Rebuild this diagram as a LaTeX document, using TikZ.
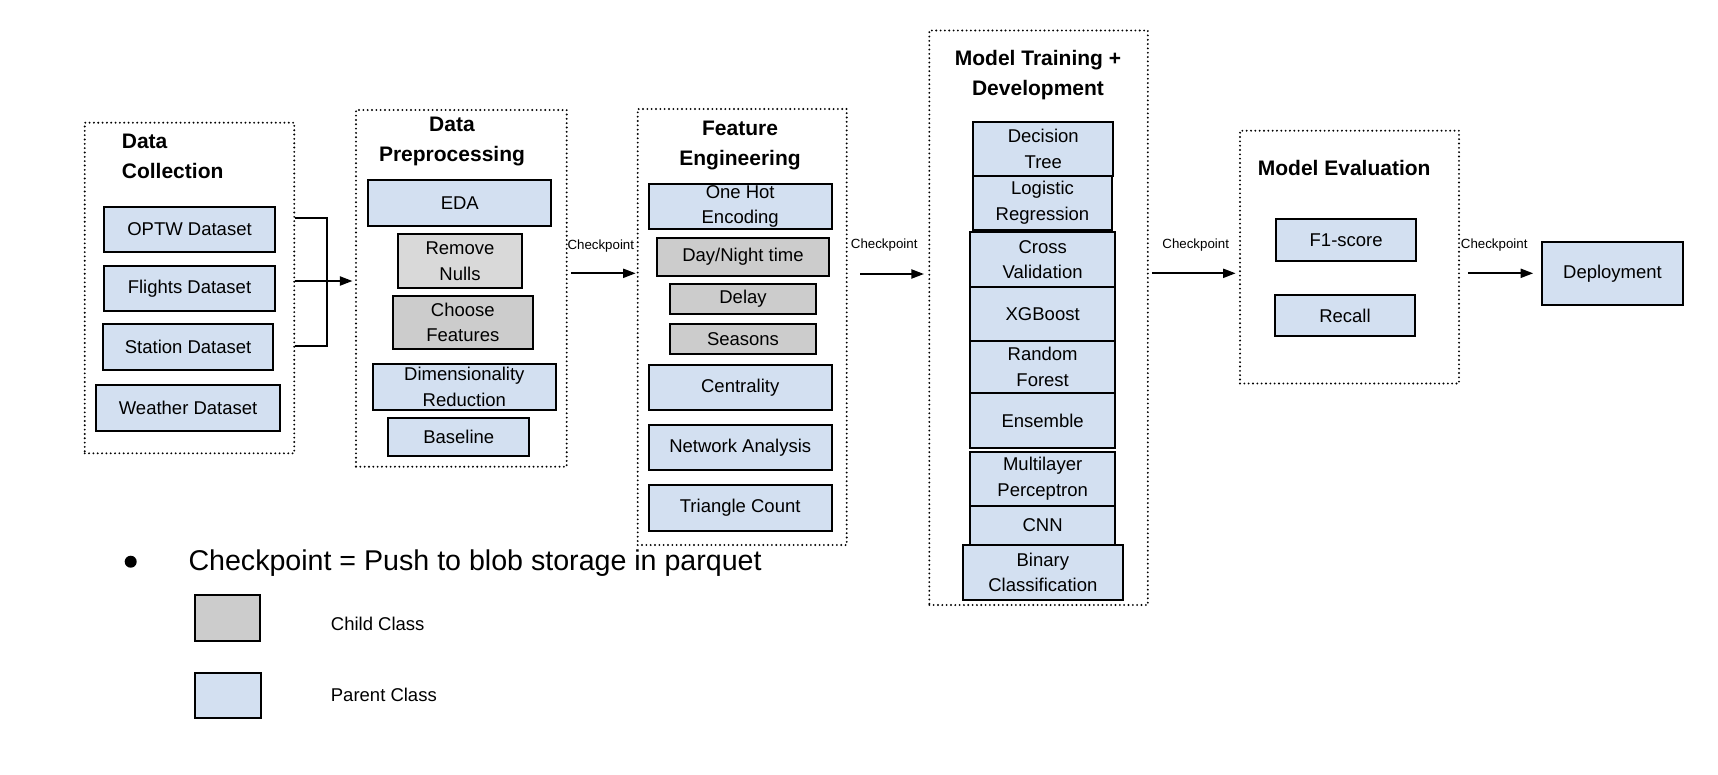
\documentclass[tikz,border=0pt]{standalone}
\usepackage{fontspec}
\setmainfont{Liberation Sans}
\usetikzlibrary{arrows.meta}
\definecolor{parentblue}{HTML}{D3E0F1}
\definecolor{childgray}{HTML}{CCCCCC}
\definecolor{childlight}{HTML}{D9D9D9}
\tikzstyle{grp} = [rectangle, draw=black, line width=2.1pt, dash pattern=on 0pt off 4.33pt, line cap=round, inner sep=0pt]
\tikzstyle{pbox} = [rectangle, draw=black, line width=2pt, fill=parentblue, inner sep=0pt, align=center, font=\fontsize{18.5}{25.7}\selectfont]
\tikzstyle{cbox} = [pbox, fill=childgray]
\tikzstyle{cboxl} = [pbox, fill=childlight]
\tikzstyle{ttl} = [inner sep=0pt, align=center, font=\fontsize{21}{30}\selectfont\bfseries]
\tikzstyle{cp} = [inner sep=0pt, font=\fontsize{13.3}{16}\selectfont]
\tikzstyle{lgd} = [anchor=base west, inner sep=0pt, font=\fontsize{18.5}{22}\selectfont]
\tikzstyle{wire} = [line width=1.9pt]
\tikzstyle{arrow} = [line width=1.9pt, -{Triangle[length=12.5pt,width=9pt]}]

\begin{document}
\begin{tikzpicture}[x=1pt, y=-1pt]
\useasboundingbox (0,0) rectangle (1718,774);

%Groups
\node (DC) [grp, minimum width=209.5pt, minimum height=330.6pt] at (189.5,288) {};
\node (DP) [grp, minimum width=210.7pt, minimum height=356.7pt] at (461.35,288.35) {};
\node (FE) [grp, minimum width=209pt, minimum height=436pt] at (742.2,327) {};
\node (MT) [grp, minimum width=218.5pt, minimum height=574.5pt] at (1038.55,317.75) {};
\node (ME) [grp, minimum width=219pt, minimum height=252.8pt] at (1349.5,257.1) {};

%Titles
\node (DCt) [ttl, align=left, anchor=west] at (121.7,156.8) {Data\\Collection};
\node (DPt) [ttl] at (452,141.7) {Data\\Preprocessing};
\node (FEt) [ttl] at (740,145) {Feature\\Engineering};
\node (MTt) [ttl] at (1038,74.7) {Model Training +\\Development};
\node (MEt) [ttl] at (1344.2,168.4) {Model Evaluation};

%Data Collection
\node (optw) [pbox, minimum width=170.6pt, minimum height=44.9pt] at (189.5,229.35) {OPTW Dataset};
\node (flights) [pbox, minimum width=170.6pt, minimum height=45.5pt] at (189.5,288.35) {Flights Dataset};
\node (station) [pbox, minimum width=170pt, minimum height=45.6pt] at (188.1,347) {Station Dataset};
\node (weather) [pbox, minimum width=183.4pt, minimum height=45.6pt] at (188.1,408) {Weather Dataset};

%Data Preprocessing
\node (eda) [pbox, minimum width=183.2pt, minimum height=45.6pt] at (459.8,203) {EDA};
\node (nulls) [cboxl, minimum width=124.8pt, minimum height=53.6pt] at (460,261) {Remove\\Nulls};
\node (choose) [cbox, minimum width=140.5pt, minimum height=53.2pt] at (462.85,322.5) {Choose\\Features};
\node (dimred) [pbox, minimum width=183.5pt, minimum height=45.9pt] at (464.35,387.15) {Dimensionality\\Reduction};
\node (base) [pbox, minimum width=140.7pt, minimum height=38.8pt] at (458.75,437) {Baseline};

%Feature Engineering
\node (onehot) [pbox, minimum width=183.2pt, minimum height=45.5pt] at (740.2,206.35) {One Hot\\Encoding};
\node (daynight) [cbox, minimum width=172.2pt, minimum height=38.2pt] at (743,256.7) {Day/Night time};
\node (delay) [cbox, minimum width=145.6pt, minimum height=29.9pt] at (743,299.15) {Delay};
\node (seasons) [cbox, minimum width=145.6pt, minimum height=29.9pt] at (743,339.15) {Seasons};
\node (central) [pbox, minimum width=183.2pt, minimum height=44.9pt] at (740.2,387.35) {Centrality};
\node (network) [pbox, minimum width=183.2pt, minimum height=45.2pt] at (740.2,447.5) {Network Analysis};
\node (triangle) [pbox, minimum width=183.2pt, minimum height=45.6pt] at (740.2,508) {Triangle Count};

%Model Training
\node (dtree) [pbox, minimum width=140.2pt, minimum height=54pt] at (1043.3,148.7) {Decision\\Tree};
\node (logreg) [pbox, minimum width=139.8pt, minimum height=54.3pt] at (1042.5,202.85) {Logistic\\Regression};
\node (crossval) [pbox, minimum width=144.9pt, minimum height=54.4pt] at (1042.65,259.5) {Cross\\Validation};
\node (xgb) [pbox, minimum width=144.9pt, minimum height=54pt] at (1042.65,313.7) {XGBoost};
\node (rforest) [pbox, minimum width=144.9pt, minimum height=52.6pt] at (1042.65,367) {Random\\Forest};
\node (ensemble) [pbox, minimum width=144.9pt, minimum height=54.4pt] at (1042.65,420.5) {Ensemble};
\node (mlp) [pbox, minimum width=144.9pt, minimum height=53.7pt] at (1042.65,478.85) {Multilayer\\Perceptron};
\node (cnn) [pbox, minimum width=144.9pt, minimum height=39.3pt] at (1042.65,525.35) {CNN};
\node (binary) [pbox, minimum width=160.5pt, minimum height=55pt] at (1042.85,572.5) {Binary\\Classification};

%Model Evaluation
\node (fone) [pbox, minimum width=140.5pt, minimum height=41.6pt] at (1346.15,240) {F1-score};
\node (recall) [pbox, minimum width=140.2pt, minimum height=41.5pt] at (1345,315.65) {Recall};
\node (deploy) [pbox, minimum width=141.2pt, minimum height=63.2pt] at (1612.5,273.5) {Deployment};

%Checkpoint labels
\node (cp1) [cp] at (600.8,246) {Checkpoint};
\node (cp2) [cp] at (884.2,245.3) {Checkpoint};
\node (cp3) [cp] at (1195.7,245.3) {Checkpoint};
\node (cp4) [cp] at (1494.2,245.3) {Checkpoint};

%Legend
\node (bullet) [circle, fill=black, inner sep=0pt, minimum size=12pt] at (130.7,561.7) {};
\node (note) [anchor=base west, inner sep=0pt, font=\fontsize{28.6}{34}\selectfont] at (188.3,570.7) {Checkpoint = Push to blob storage in parquet};
\node (lgchild) [cbox, minimum width=64.9pt, minimum height=45.6pt] at (227.65,618) {};
\node (lgchildT) [lgd] at (330.7,630) {Child Class};
\node (lgparent) [pbox, minimum width=66.5pt, minimum height=45.5pt] at (227.85,695.35) {};
\node (lgparentT) [lgd] at (330.7,701.7) {Parent Class};

%bracket
\coordinate (b1) at (327.3,218.3);
\coordinate (b2) at (327.3,345.7);
\draw [wire] (DC.east |- b1) -- (b1) -- (b2) -- (DC.east |- b2);

%arrows
\draw [arrow, shorten >=2.5pt] (DC.east |- 0,281) -- (DP.west |- 0,281);
\draw [arrow, shorten <=3.3pt, shorten >=1pt] (DP.east |- 0,273.3) -- (FE.west |- 0,273.3);
\draw [arrow, shorten <=12.6pt, shorten >=4.3pt] (FE.east |- 0,274) -- (MT.west |- 0,274);
\draw [arrow, shorten <=2.9pt, shorten >=3.3pt] (MT.east |- 0,273.3) -- (ME.west |- 0,273.3);
\draw [arrow, shorten <=7.7pt, shorten >=7.7pt] (ME.east |- 0,273.3) -- (deploy.west |- 0,273.3);

\end{tikzpicture}
\end{document}
